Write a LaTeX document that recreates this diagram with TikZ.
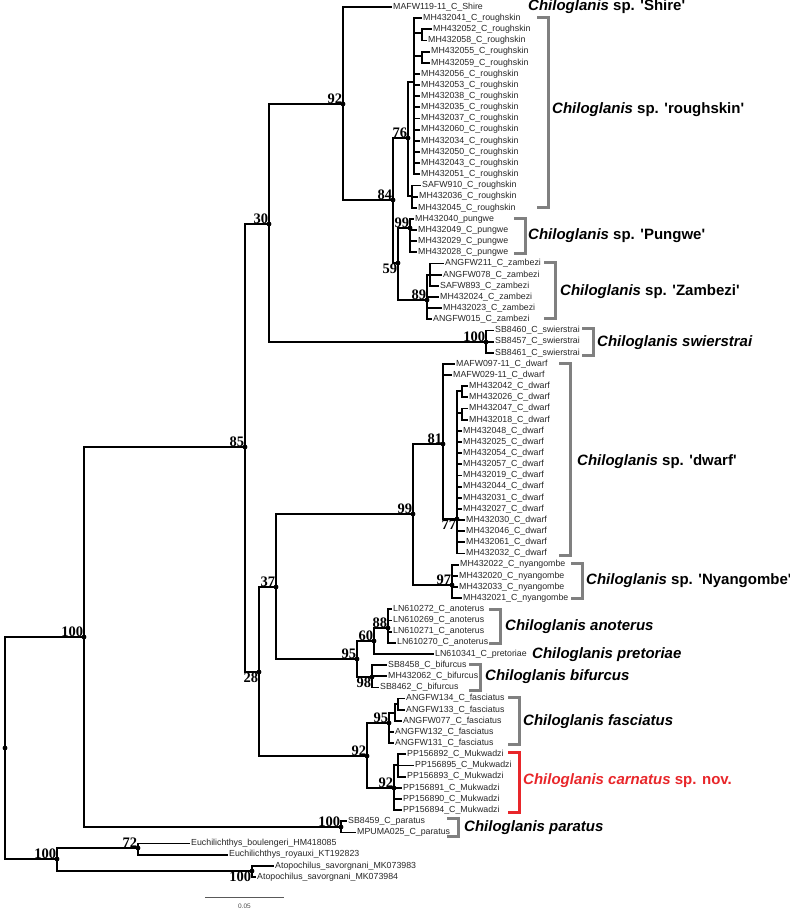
\documentclass[tikz,border=0pt]{standalone}
\usepackage{fontspec}
\newfontfamily\arialf{Liberation Sans}[Ligatures=TeXOff]
\newfontfamily\timesf{Liberation Serif}
\definecolor{brgray}{RGB}{128,128,128}
\definecolor{novred}{RGB}{232,38,42}
\tikzset{
  branch/.style={line width=1.8pt, line cap=rect},
  leaflab/.style={anchor=west, inner xsep=2pt, inner ysep=0pt, text=black!85,
    font=\arialf\fontsize{8.8}{8.8}\selectfont},
  bs/.style={inner sep=0.6pt, font=\timesf\bfseries\fontsize{14.5}{14.5}\selectfont},
  bsup/.style={bs, anchor=south east},
  bsdn/.style={bs, anchor=north east},
  grp/.style={anchor=west, inner sep=0pt, font=\arialf\bfseries\fontsize{15}{15}\selectfont},
  brk/.style={line width=3pt, brgray},
}
% leaf: name, x of branch end, row, text
\newcommand{\leaf}[4]{\node[leaflab] (#1) at (#2,{7+11.154*#3}) {#4};}
% bracket: x, top, bottom
\newcommand{\bracket}[4][brk]{\draw[#1] (#2-11,#3) -- (#2,#3) -- (#2,#4) -- (#2-11,#4);}

\begin{document}
\begin{tikzpicture}[x=1pt,y=-1pt]
\useasboundingbox (0,0) rectangle (790,908);

% internal nodes
\coordinate (root) at (5,748);
\coordinate (Nin) at (84,637);
\coordinate (Nout) at (57,859);
\coordinate (N85) at (245,447);
\coordinate (N30) at (269,224);
\coordinate (N92) at (343,104);
\coordinate (N84) at (393,200);
\coordinate (R76) at (408,138);
\coordinate (S1) at (414,82);
\coordinate (SA) at (422,33);
\coordinate (SB) at (422,56);
\coordinate (S2) at (412,196);
\coordinate (N59) at (398,263);
\coordinate (P99) at (410,228);
\coordinate (Z89) at (427,300);
\coordinate (Z1) at (430,275);
\coordinate (Nsw) at (486,342);
\coordinate (N28) at (259,672);
\coordinate (N37) at (276,587);
\coordinate (N99) at (413,514);
\coordinate (N81) at (443,444);
\coordinate (N77) at (457,519);
\coordinate (D1) at (462,391);
\coordinate (D2) at (462,413);
\coordinate (N97) at (452,585);
\coordinate (N95) at (357,659);
\coordinate (N60) at (374,641);
\coordinate (N88) at (388,628);
\coordinate (N98) at (372,677);
\coordinate (N92b) at (367,756);
\coordinate (N95f) at (389,723);
\coordinate (F1) at (395,713);
\coordinate (F2) at (398,704);
\coordinate (N92c) at (394,788);
\coordinate (C1) at (398,765);
\coordinate (Npar) at (341,827);
\coordinate (N72) at (138,848);
\coordinate (Natop) at (252,871);

% tips
\leaf{t0}{391}{0}{MAFW119-11\_C\_Shire}
\leaf{t1}{421}{1}{MH432041\_C\_roughskin}
\leaf{t2}{431}{2}{MH432052\_C\_roughskin}
\leaf{t3}{426}{3}{MH432058\_C\_roughskin}
\leaf{t4}{429}{4}{MH432055\_C\_roughskin}
\leaf{t5}{429}{5}{MH432059\_C\_roughskin}
\leaf{t6}{419}{6}{MH432056\_C\_roughskin}
\leaf{t7}{419}{7}{MH432053\_C\_roughskin}
\leaf{t8}{419}{8}{MH432038\_C\_roughskin}
\leaf{t9}{419}{9}{MH432035\_C\_roughskin}
\leaf{t10}{419}{10}{MH432037\_C\_roughskin}
\leaf{t11}{419}{11}{MH432060\_C\_roughskin}
\leaf{t12}{419}{12}{MH432034\_C\_roughskin}
\leaf{t13}{419}{13}{MH432050\_C\_roughskin}
\leaf{t14}{419}{14}{MH432043\_C\_roughskin}
\leaf{t15}{419}{15}{MH432051\_C\_roughskin}
\leaf{t16}{420}{16}{SAFW910\_C\_roughskin}
\leaf{t17}{417}{17}{MH432036\_C\_roughskin}
\leaf{t18}{416}{18}{MH432045\_C\_roughskin}
\leaf{t19}{413}{19}{MH432040\_pungwe}
\leaf{t20}{416}{20}{MH432049\_C\_pungwe}
\leaf{t21}{416}{21}{MH432029\_C\_pungwe}
\leaf{t22}{416}{22}{MH432028\_C\_pungwe}
\leaf{t23}{443}{23}{ANGFW211\_C\_zambezi}
\leaf{t24}{441}{24}{ANGFW078\_C\_zambezi}
\leaf{t25}{438}{25}{SAFW893\_C\_zambezi}
\leaf{t26}{438}{26}{MH432024\_C\_zambezi}
\leaf{t27}{441}{27}{MH432023\_C\_zambezi}
\leaf{t28}{431}{28}{ANGFW015\_C\_zambezi}
\leaf{t29}{493}{29}{SB8460\_C\_swierstrai}
\leaf{t30}{493}{30}{SB8457\_C\_swierstrai}
\leaf{t31}{493}{31}{SB8461\_C\_swierstrai}
\leaf{t32}{454}{32}{MAFW097-11\_C\_dwarf}
\leaf{t33}{451}{33}{MAFW029-11\_C\_dwarf}
\leaf{t34}{467}{34}{MH432042\_C\_dwarf}
\leaf{t35}{467}{35}{MH432026\_C\_dwarf}
\leaf{t36}{467}{36}{MH432047\_C\_dwarf}
\leaf{t37}{467}{37}{MH432018\_C\_dwarf}
\leaf{t38}{461}{38}{MH432048\_C\_dwarf}
\leaf{t39}{461}{39}{MH432025\_C\_dwarf}
\leaf{t40}{461}{40}{MH432054\_C\_dwarf}
\leaf{t41}{461}{41}{MH432057\_C\_dwarf}
\leaf{t42}{461}{42}{MH432019\_C\_dwarf}
\leaf{t43}{461}{43}{MH432044\_C\_dwarf}
\leaf{t44}{461}{44}{MH432031\_C\_dwarf}
\leaf{t45}{461}{45}{MH432027\_C\_dwarf}
\leaf{t46}{464}{46}{MH432030\_C\_dwarf}
\leaf{t47}{464}{47}{MH432046\_C\_dwarf}
\leaf{t48}{464}{48}{MH432061\_C\_dwarf}
\leaf{t49}{464}{49}{MH432032\_C\_dwarf}
\leaf{t50}{458}{50}{MH432022\_C\_nyangombe}
\leaf{t51}{457}{51}{MH432020\_C\_nyangombe}
\leaf{t52}{457}{52}{MH432033\_C\_nyangombe}
\leaf{t53}{461}{53}{MH432021\_C\_nyangombe}
\leaf{t54}{391}{54}{LN610272\_C\_anoterus}
\leaf{t55}{391}{55}{LN610269\_C\_anoterus}
\leaf{t56}{391}{56}{LN610271\_C\_anoterus}
\leaf{t57}{395}{57}{LN610270\_C\_anoterus}
\leaf{t58}{433}{58}{LN610341\_C\_pretoriae}
\leaf{t59}{386}{59}{SB8458\_C\_bifurcus}
\leaf{t60}{386}{60}{MH432062\_C\_bifurcus}
\leaf{t61}{378}{61}{SB8462\_C\_bifurcus}
\leaf{t62}{404}{62}{ANGFW134\_C\_fasciatus}
\leaf{t63}{404}{63}{ANGFW133\_C\_fasciatus}
\leaf{t64}{401}{64}{ANGFW077\_C\_fasciatus}
\leaf{t65}{393}{65}{ANGFW132\_C\_fasciatus}
\leaf{t66}{393}{66}{ANGFW131\_C\_fasciatus}
\leaf{t67}{405}{67}{PP156892\_C\_Mukwadzi}
\leaf{t68}{413}{68}{PP156895\_C\_Mukwadzi}
\leaf{t69}{405}{69}{PP156893\_C\_Mukwadzi}
\leaf{t70}{401}{70}{PP156891\_C\_Mukwadzi}
\leaf{t71}{401}{71}{PP156890\_C\_Mukwadzi}
\leaf{t72}{401}{72}{PP156894\_C\_Mukwadzi}
\leaf{t73}{346}{73}{SB8459\_C\_paratus}
\leaf{t74}{355}{74}{MPUMA025\_C\_paratus}
\leaf{t75}{189}{75}{Euchilichthys\_boulengeri\_HM418085}
\leaf{t76}{227}{76}{Euchilichthys\_royauxi\_KT192823}
\leaf{t77}{273}{77}{Atopochilus\_savorgnani\_MK073983}
\leaf{t78}{255}{78}{Atopochilus\_savorgnani\_MK073984}

% branches between internal nodes
\foreach \a/\b in {root/Nin, root/Nout, Nin/N85, Nin/Npar, N85/N30, N85/N28,
  N30/N92, N30/Nsw, N92/N84, N84/R76, N84/N59, R76/S1, R76/S2, S1/SA, S1/SB,
  N59/P99, N59/Z89, Z89/Z1, N28/N37, N28/N92b, N37/N99, N37/N95, N99/N81,
  N99/N97, N81/N77, N77/D1, N77/D2, N95/N60, N95/N98, N60/N88, N92b/N95f,
  N92b/N92c, N95f/F1, F1/F2, N92c/C1, Nout/N72, Nout/Natop}
  \draw[branch] (\a) |- (\b);

% branches to tips
\foreach \a/\b in {N92/t0, S1/t1, SA/t2, SA/t3, SB/t4, SB/t5, S2/t16, S2/t17, S2/t18,
  P99/t19, P99/t20, P99/t21, P99/t22, Z1/t23, Z1/t24, Z1/t25, Z89/t26, Z89/t27,
  Z89/t28, Nsw/t29, Nsw/t30, Nsw/t31, N81/t32, N81/t33, D1/t34, D1/t35, D2/t36,
  D2/t37, N97/t50, N97/t51, N97/t52, N97/t53, N88/t54, N88/t55, N88/t56, N88/t57,
  N60/t58, N98/t59, N98/t60, N98/t61, F2/t62, F2/t63, F1/t64, N95f/t65, N95f/t66,
  C1/t67, C1/t68, C1/t69, N92c/t70, N92c/t71, N92c/t72, Npar/t73, Npar/t74,
  N72/t75, N72/t76, Natop/t77, Natop/t78}
  \draw[branch] (\a) |- (\b.west);
\foreach \b in {t6,t7,t8,t9,t10,t11,t12,t13,t14,t15}
  \draw[branch] (S1) |- (\b.west);
\foreach \b in {t38,t39,t40,t41,t42,t43,t44,t45,t46,t47,t48,t49}
  \draw[branch] (N77) |- (\b.west);

% node dots
\foreach \n in {root,Nin,Nout,N85,N30,N92,N84,R76,N59,P99,Z89,Nsw,N28,N37,N99,
  N81,N77,N97,N95,N60,N88,N98,N92b,N95f,N92c,Npar,N72,Natop}
  \fill (\n) circle (2.4);

% bootstrap values
\foreach \n/\v in {Nin/100, Nout/100, N85/85, N30/30, N92/92, N84/84, R76/76,
  P99/99, Z89/89, Nsw/100, N37/37, N99/99, N81/81, N97/97, N95/95, N60/60,
  N88/88, N95f/95, N92b/92, N92c/92, Npar/100, N72/72}
  \node[bsup] (b\n) at (\n) {\v};
\foreach \n/\v in {N59/59, N28/28, N77/77, N98/98, Natop/100}
  \node[bsdn] (b\n) at (\n) {\v};

% clade brackets
\bracket{548}{17}{207}
\bracket{525}{218}{253}
\bracket{555}{262}{318}
\bracket{593}{328}{355}
\bracket{570}{363}{555}
\bracket{582}{563}{598}
\bracket{500}{609}{643}
\bracket{480}{664}{690}
\bracket{519}{697}{744}
\bracket[brk,novred]{519}{752}{812}
\bracket{458}{818}{836}

% clade names
\node[grp] (gshire) at (528,7) {\textit{Chiloglanis} sp. 'Shire'};
\node[grp] (grough) at (552,110) {\textit{Chiloglanis} sp. 'roughskin'};
\node[grp] (gpung) at (528,236) {\textit{Chiloglanis} sp. 'Pungwe'};
\node[grp] (gzamb) at (560,292) {\textit{Chiloglanis} sp. 'Zambezi'};
\node[grp] (gswier) at (597,343) {\textit{Chiloglanis swierstrai}};
\node[grp] (gdwarf) at (577,462) {\textit{Chiloglanis} sp. 'dwarf'};
\node[grp] (gnyang) at (586,581) {\textit{Chiloglanis} sp. 'Nyangombe'};
\node[grp] (ganot) at (505,627) {\textit{Chiloglanis anoterus}};
\node[grp] (gpret) at (532,655) {\textit{Chiloglanis pretoriae}};
\node[grp] (gbif) at (485,677) {\textit{Chiloglanis bifurcus}};
\node[grp] (gfasc) at (523,722) {\textit{Chiloglanis fasciatus}};
\node[grp, text=novred] (gcarn) at (523,781) {\textit{Chiloglanis carnatus} sp. nov.};
\node[grp] (gpar) at (464,828) {\textit{Chiloglanis paratus}};

% scale bar
\coordinate (sb0) at (205,897);
\coordinate (sb1) at (284,897);
\draw[line width=0.7pt, black!65] (sb0) -- (sb1);
\node[font=\arialf\fontsize{6.5}{6.5}\selectfont, text=black!70] (sblab) at (244.5,906) {0.05};
\end{tikzpicture}
\end{document}
